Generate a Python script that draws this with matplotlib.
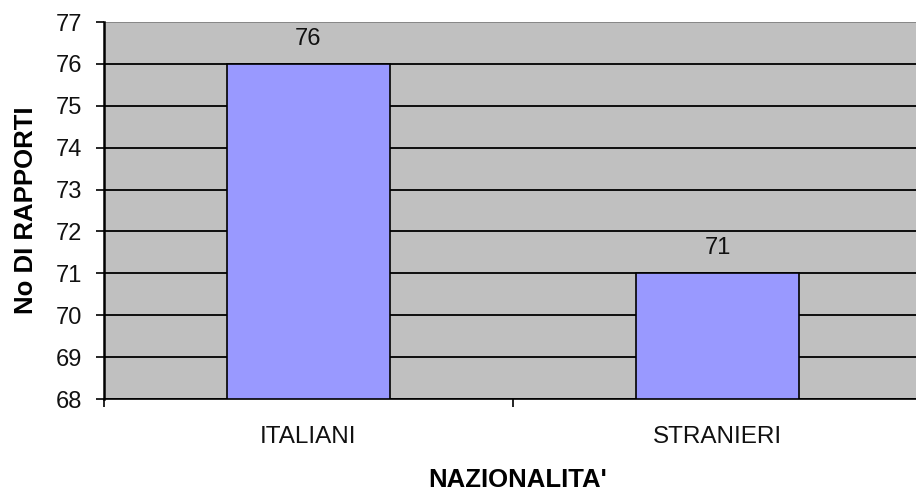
import matplotlib
matplotlib.use("Agg")
import matplotlib.pyplot as plt
import matplotlib.transforms as mtransforms

categories = ["ITALIANI", "STRANIERI"]
values = [76, 71]
yticks = list(range(68, 78))

plt.rcParams['font.family'] = ['Liberation Sans', 'DejaVu Sans']

fig = plt.figure(figsize=(9.16, 4.94), dpi=100)
ax = fig.add_axes([104 / 916, 1 - 399 / 494, 818 / 916, 377 / 494])
ax.set_facecolor("#C0C0C0")

ax.set_ylim(68, 77)
ax.set_xlim(-0.5, 1.5)
ax.set_yticks(yticks)
ax.yaxis.grid(True, color="black", linewidth=1.3)
ax.set_axisbelow(True)

x = list(range(len(categories)))
ax.bar(x, [v - 68 for v in values], bottom=68, width=0.40,
       color="#9999FF", edgecolor="black", linewidth=1.2, zorder=3)

# value labels above each bar
for xi, v in zip(x, values):
    ax.annotate(str(v), (xi, v), xytext=(0, 18), textcoords="offset points",
                ha="center", va="center", fontsize=17, color="#111111")

# category tick marks sit between the bars; names are placed under each bar
ax.set_xticks([-0.5, 0.5, 1.5])
ax.set_xticklabels(["", "", ""])
ax.tick_params(axis="x", direction="out", length=6, width=1.2)
cat_trans = mtransforms.blended_transform_factory(ax.transData, fig.transFigure)
for xi, c in zip(x, categories):
    ax.text(xi, 1 - 437 / 494, c, transform=cat_trans,
            ha="center", va="center", fontsize=17.5, color="#111111")

ax.tick_params(axis="y", direction="out", length=6, width=1.2, labelsize=17,
               pad=10, labelcolor="#111111")
ax.set_yticklabels([str(t) for t in yticks])

for side in ["top", "right"]:
    ax.spines[side].set_visible(False)
ax.spines["left"].set_linewidth(1.8)
ax.spines["bottom"].set_linewidth(1.2)
ax.axhline(77, color="#A0A0A0", linewidth=1.2, zorder=1)

fig.text(26 / 916, 1 - 210 / 494, "No DI RAPPORTI", rotation=90,
         ha="center", va="center", fontsize=18.5, fontweight="bold")
fig.text(518 / 916, 1 - 480 / 494, "NAZIONALITA'", ha="center", va="center",
         fontsize=18.5, fontweight="bold")

fig.savefig("out.png", dpi=100)
